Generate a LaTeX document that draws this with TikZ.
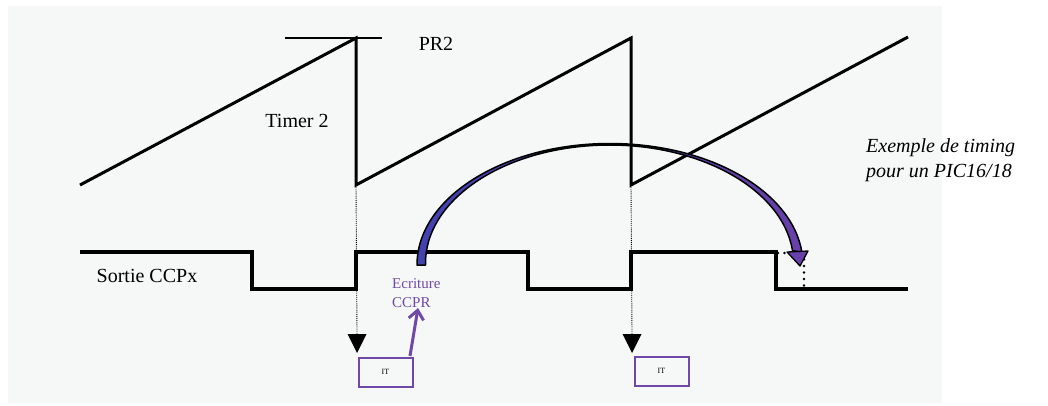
\documentclass[tikz,border=0pt]{standalone}
\usepackage{fontspec}
\setmainfont{Liberation Serif}
\usetikzlibrary{arrows.meta}
\definecolor{bg}{RGB}{246,248,248}
\definecolor{pur}{RGB}{112,72,168}
\definecolor{arcblue}{RGB}{66,66,176}
\definecolor{arcpur}{RGB}{104,64,170}
\begin{document}
\begin{tikzpicture}[x=1pt,y=-1pt,
  lbl/.style={font=\fontsize{20}{22}\selectfont, inner sep=0pt},
  itbox/.style={draw=pur, line width=2pt, minimum width=54pt, minimum height=29pt, inner sep=0pt, font=\fontsize{8}{9}\selectfont},
  wave/.style={line width=3pt, line join=miter},
  sig/.style={line width=3.5pt, line join=miter},
  drop/.style={line width=0.9pt, densely dotted},
  tri/.style={fill=black}]
\useasboundingbox (0,0) rectangle (1048,405);
\fill[bg] (8,6) rectangle (942,403);

% Timer 2 sawtooth
\coordinate (s0) at (80,185);
\coordinate (p1) at (356,38);
\coordinate (b1) at (356,185);
\coordinate (p2) at (631,38);
\coordinate (b2) at (631,185);
\coordinate (s3) at (908,37);
\draw[wave] (s0) -- (p1) -- (b1) -- (p2) -- (b2) -- (s3);

% PR2 level
\coordinate (pr2a) at (285,38);
\coordinate (pr2b) at (382,38);
\draw[line width=2pt] (pr2a) -- (pr2b);
\node[lbl] (pr2) at (436,44) {PR2};
\node[lbl] (timer) at (297,121) {Timer 2};

% CCPx output
\coordinate (c0) at (80,252);
\draw[sig] (c0) -| (252,289) -| (356,252) -| (528,289) -| (631,252) -| (776,289) -- (908,289);
\node[lbl] (sortie) at (147,276) {Sortie CCPx};

% dotted step at right
\draw[line width=2.8pt, line cap=round, dash pattern=on 0pt off 6.5pt] (778,253) -- (804,253) -- (804,287);

% IT boxes
\node[itbox] (it1) at (385.5,372) {IT};
\node[itbox] (it2) at (661.5,371) {IT};

% dotted drops with arrowheads
\coordinate (t1) at (357,334);
\coordinate (t2) at (632,334);
\draw[drop] (b1) -- (t1);
\draw[drop] (b2) -- (t2);
\fill[tri] (347.5,334) -- (366.5,334) -- (357,353) -- cycle;
\fill[tri] (622.5,334) -- (641.5,334) -- (632,353) -- cycle;

% Ecriture CCPR
\node[font=\fontsize{15}{19}\selectfont, text=pur, align=left, inner sep=0pt, anchor=west] (ecr) at (392,293) {Ecriture\\CCPR};
\coordinate (ea) at (410,356);
\coordinate (eb) at (418,308);
\draw[pur, line width=3pt, -{Straight Barb[length=9pt,width=15pt,line width=3pt]}] (ea) -- (eb);

% big tapered curved arrow
\path[draw=black, line width=1.5pt, line join=round, left color=arcblue, right color=arcpur]
  (417,265) arc[start angle=180, end angle=354, x radius=193, y radius=121.5]
  -- (609.5+184*0.9945, 263-118*0.1045)
  arc[start angle=354, end angle=180, x radius=184, y radius=118]
  -- (425.5,265) -- cycle;
\filldraw[fill=arcpur, draw=black, line width=1.3pt, line join=round] (787,252) -- (808,251) -- (800,266) -- cycle;

% side note
\node[font=\fontsize{20}{25}\selectfont\itshape, align=left, inner sep=0pt, anchor=west] (note) at (866,160) {Exemple de timing\\pour un PIC16/18};
\end{tikzpicture}
\end{document}
